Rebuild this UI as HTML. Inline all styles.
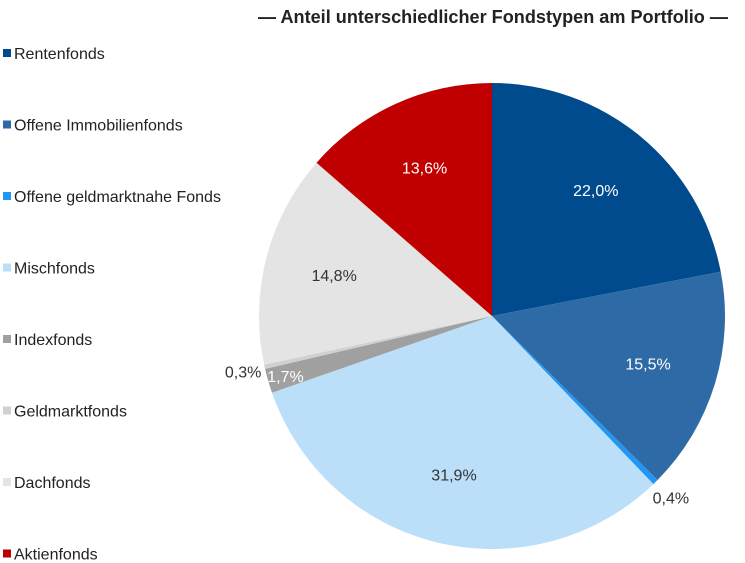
<!DOCTYPE html>
<html><head><meta charset="utf-8"><style>
body{margin:0;background:#fff;width:745px;height:563px;overflow:hidden;font-family:"Liberation Sans",sans-serif}
svg{display:block}
</style></head><body>
<svg id="chart" width="745" height="563" xmlns="http://www.w3.org/2000/svg">
<text x="258" y="23" font-family="'Liberation Sans Narrow','Liberation Sans',sans-serif" font-size="18" font-weight="bold" fill="#222" textLength="470" lengthAdjust="spacingAndGlyphs">— Anteil unterschiedlicher Fondstypen am Portfolio —</text>
<g id="slices"></g>
<g id="labels"></g>
<g id="legend"></g>
</svg>
<script>
const categories=["Rentenfonds","Offene Immobilienfonds","Offene geldmarktnahe Fonds","Mischfonds","Indexfonds","Geldmarktfonds","Dachfonds","Aktienfonds"];
const values=[22.0,15.5,0.4,31.9,1.7,0.3,14.8,13.6];
const valueLabels=["22,0%","15,5%","0,4%","31,9%","1,7%","0,3%","14,8%","13,6%"];
const colors=["#004b8d","#2e6aa6","#2196f3","#bcdff9","#a0a0a0","#d0d0d0","#e4e4e4","#c00000"];
const NS="http://www.w3.org/2000/svg";
const cx=492,cy=316,R=233;
const total=values.reduce((a,b)=>a+b,0);
const sg=document.getElementById('slices'),lg=document.getElementById('labels'),leg=document.getElementById('legend');
function pt(a,r){return [cx+r*Math.sin(a),cy-r*Math.cos(a)];}
let acc=0;
values.forEach((v,i)=>{
  const a0=acc/total*2*Math.PI; acc+=v; const a1=acc/total*2*Math.PI;
  const p0=pt(a0,R),p1=pt(a1,R);
  const large=(a1-a0)>Math.PI?1:0;
  const p=document.createElementNS(NS,'path');
  p.setAttribute('d',`M${cx},${cy}L${p0[0]},${p0[1]}A${R},${R} 0 ${large} 1 ${p1[0]},${p1[1]}Z`);
  p.setAttribute('fill',colors[i]);
  
  
  sg.appendChild(p);
  const am=(a0+a1)/2;
  const small=v<1.5;
  const tiny=v<2;
  let lp=pt(am,small?R+22:(tiny?R-18:R*0.7));
  const t=document.createElementNS(NS,'text');
  t.setAttribute('x',lp[0]);t.setAttribute('y',lp[1]+6);
  t.setAttribute('text-anchor','middle');t.setAttribute('font-size','16');
  const dark=[0,1,6-6+7].includes(i)||i===0||i===1||i===7;
  t.setAttribute('fill',(i===0||i===1||i===7)?'#fff':(i===4?'#fff':'#333'));
  t.textContent=valueLabels[i];
  
  
  lg.appendChild(t);
  const y=54+i*71.5;
  const r=document.createElementNS(NS,'rect');
  r.setAttribute('x',3);r.setAttribute('y',y-5);r.setAttribute('width',8);r.setAttribute('height',8);r.setAttribute('fill',colors[i]);
  
  
  leg.appendChild(r);
  const lt=document.createElementNS(NS,'text');
  lt.setAttribute('x',14);lt.setAttribute('y',y+5);lt.setAttribute('font-size','16');lt.setAttribute('fill','#222');
  lt.textContent=categories[i];
  
  
  leg.appendChild(lt);
});
</script>
</body></html>
